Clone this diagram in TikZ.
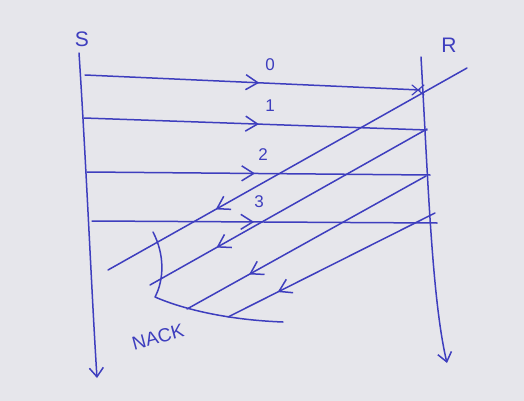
\documentclass[tikz,border=0pt]{standalone}
\usepackage{fontspec}
\setmainfont{Liberation Sans}
\usetikzlibrary{arrows.meta,decorations.markings}
\definecolor{ink}{RGB}{62,62,190}
\definecolor{paper}{RGB}{230,230,235}
\tikzset{
  pen/.style={draw=ink, line width=1.5pt, line cap=round, line join=round},
  barb/.tip={Straight Barb[length=12pt,width=15pt,line width=1.5pt]},
  smallbarb/.tip={Straight Barb[length=9pt,width=14pt,line width=1.5pt]},
  msg/.style={pen, postaction={decorate, decoration={markings, mark=at position #1 with {\arrow{barb}}}}},
  lbl/.style={text=ink, inner sep=0pt, font=\fontsize{17}{17}\selectfont},
}
\begin{document}
\begin{tikzpicture}[x=1pt,y=-1pt]
\fill[paper] (0,0) rectangle (524,401);
\useasboundingbox (0,0) rectangle (524,401);
% labels
\node[lbl, font=\fontsize{21}{21}\selectfont] (S) at (82,39) {S};
\node[lbl, font=\fontsize{21}{21}\selectfont] (R) at (449,45) {R};
\node[lbl] (l0) at (270,65) {0};
\node[lbl] (l1) at (270,106) {1};
\node[lbl] (l2) at (263,155) {2};
\node[lbl] (l3) at (259,202) {3};
\node[lbl, rotate=15, font=\fontsize{19}{19}\selectfont] (nack) at (158,337) {NACK};
% time lines
\coordinate (Stop) at (79,53);
\coordinate (Sbot) at (97,378);
\coordinate (Rtop) at (421,57);
\coordinate (Rbot) at (447,363);
\draw[pen, -{smallbarb}] (Stop) .. controls (86,160) and (92,300) .. (Sbot);
\draw[pen, -{smallbarb}] (Rtop) .. controls (428,180) and (432,300) .. (Rbot);
% frames S -> R
\coordinate (a0) at (85,75);  \coordinate (b0) at (420,90);
\coordinate (a1) at (84,118); \coordinate (b1) at (427,130);
\coordinate (a2) at (87,172); \coordinate (b2) at (430,175);
\coordinate (a3) at (92,221); \coordinate (b3) at (437,223);
\draw[msg=0.52] (a0) -- (b0);
\draw[msg=0.51] (a1) -- (b1);
\draw[msg=0.49] (a2) -- (b2);
\draw[msg=0.47] (a3) -- (b3);
% lost frame mark
\draw[pen, line width=1.2pt] (412,85) -- (424,95) (412,95) -- (424,85);
% R -> S diagonals
\coordinate (c1) at (467,68);  \coordinate (d1) at (108,270);
\coordinate (c2) at (427,129); \coordinate (d2) at (150,285);
\coordinate (c3) at (426,176); \coordinate (d3) at (187,309);
\coordinate (c4) at (435,213); \coordinate (d4) at (228,317);
\draw[msg=0.70] (c1) -- (d1);
\draw[msg=0.76] (c2) -- (d2);
\draw[msg=0.74] (c3) -- (d3);
\draw[msg=0.76] (c4) -- (d4);
% bracket curve
\coordinate (k1) at (153,232);
\coordinate (k2) at (155,297);
\coordinate (k3) at (283,322);
\draw[pen] (k1) .. controls (165,255) and (164,280) .. (k2)
  .. controls (185,310) and (230,320) .. (k3);
\end{tikzpicture}
\end{document}
